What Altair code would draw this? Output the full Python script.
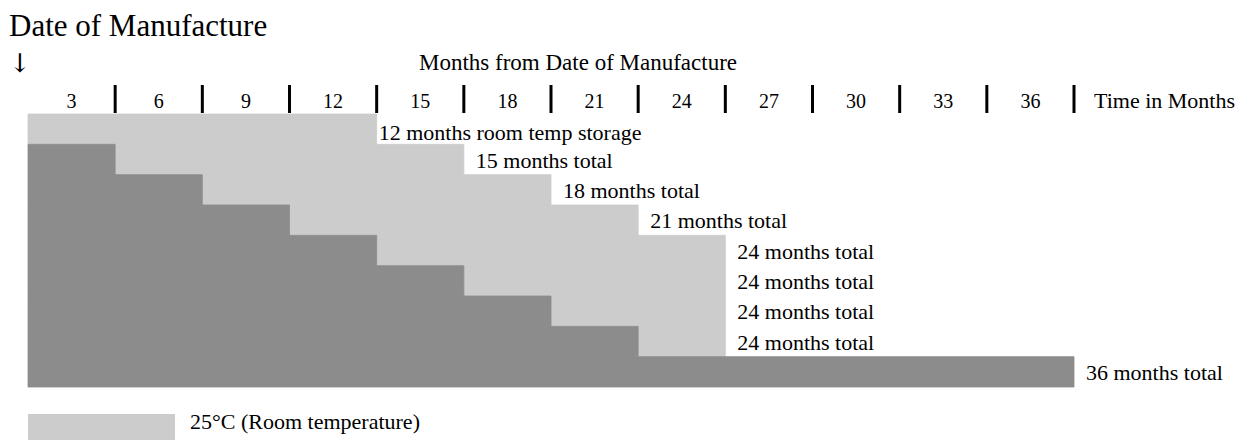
import altair as alt
import pandas as pd

# ---- data ----
row_labels = [
    "12 months room temp storage",
    "15 months total",
    "18 months total",
    "21 months total",
    "24 months total",
    "24 months total",
    "24 months total",
    "24 months total",
    "36 months total",
]
dark_end = [0, 3, 6, 9, 12, 15, 18, 21, 36]     # months at refrigerated storage (dark)
light_end = [12, 15, 18, 21, 24, 24, 24, 24, 36]  # total months (end of room temp)
tick_months = [3, 6, 9, 12, 15, 18, 21, 24, 27, 30, 33, 36]
tick_labels = ["3", "6", "9", "12", "15", "18", "21", "24", "27", "30", "33", "36"]
title_text = "Date of Manufacture"
arrow_text = "↓"
header_text = "Months from Date of Manufacture"
axis_text = "Time in Months"
legend_labels = ["25°C (Room temperature)"]
legend_colors = ["#cccccc"]

LIGHT = "#cccccc"
DARK = "#8c8c8c"
FONT = "Liberation Serif"

rows = pd.DataFrame({
    "row": list(range(len(row_labels))),
    "dark": dark_end,
    "light": light_end,
    "label": row_labels,
})
ticks = pd.DataFrame({"m": tick_months, "lab": tick_labels})
legend = pd.DataFrame({"lab": legend_labels, "col": legend_colors})

xs = alt.Scale(domain=[0, 36], range=[20, 1066], nice=False, zero=False)
ys = alt.Scale(domain=[0, 9], range=[106, 379], nice=False, zero=False)

base = alt.Chart(rows).transform_calculate(
    start="0", row2="datum.row + 1", mid="datum.row + 0.5"
)

light_bars = base.transform_filter("datum.light > datum.dark").mark_rect(
    color=LIGHT, stroke=LIGHT, strokeWidth=0.8
).encode(
    x=alt.X("dark:Q", scale=xs, axis=None),
    x2="light:Q",
    y=alt.Y("row:Q", scale=ys, axis=None),
    y2="row2:Q",
)
dark_bars = base.transform_filter("datum.dark > 0").mark_rect(
    color=DARK, stroke=DARK, strokeWidth=0.8
).encode(
    x=alt.X("start:Q", scale=xs, axis=None),
    x2="dark:Q",
    y=alt.Y("row:Q", scale=ys, axis=None),
    y2="row2:Q",
)
first_label = base.transform_filter("datum.row == 0").mark_text(
    font=FONT, fontSize=22, align="left", baseline="alphabetic", dx=2, dy=11, color="black"
).encode(
    x=alt.X("light:Q", scale=xs, axis=None),
    y=alt.Y("mid:Q", scale=ys, axis=None),
    text="label:N",
)
other_labels = base.transform_filter("datum.row > 0").mark_text(
    font=FONT, fontSize=22, align="left", baseline="alphabetic", dx=12, dy=8, color="black"
).encode(
    x=alt.X("light:Q", scale=xs, axis=None),
    y=alt.Y("mid:Q", scale=ys, axis=None),
    text="label:N",
)

tick_rules = alt.Chart(ticks).mark_rule(strokeWidth=3, color="black").encode(
    x=alt.X("m:Q", scale=xs, axis=None),
    y=alt.value(77),
    y2=alt.value(105),
)
tick_text = alt.Chart(ticks).transform_calculate(c="datum.m - 1.5").mark_text(
    font=FONT, fontSize=20, align="center", baseline="alphabetic", color="black"
).encode(
    x=alt.X("c:Q", scale=xs, axis=None),
    y=alt.value(100),
    text="lab:N",
)

title = alt.Chart(pd.DataFrame({"t": [title_text]})).mark_text(
    font=FONT, fontSize=31, align="left", baseline="alphabetic", color="black"
).encode(x=alt.value(1), y=alt.value(28), text="t:N")

arrow = alt.Chart(pd.DataFrame({"t": [arrow_text]})).mark_text(
    font="DejaVu Serif", fontSize=26, align="left", baseline="alphabetic", color="black"
).encode(x=alt.value(1), y=alt.value(64), text="t:N")

header = alt.Chart(pd.DataFrame({"t": [header_text]})).mark_text(
    font=FONT, fontSize=23, align="center", baseline="alphabetic", color="black"
).encode(x=alt.value(570), y=alt.value(62), text="t:N")

axis_title = alt.Chart(pd.DataFrame({"t": [axis_text], "m": [36]})).mark_text(
    font=FONT, fontSize=22, align="left", baseline="alphabetic", dx=20, color="black"
).encode(x=alt.X("m:Q", scale=xs, axis=None), y=alt.value(100), text="t:N")

legend_rect = alt.Chart(legend).mark_rect().encode(
    x=alt.value(20), x2=alt.value(167), y=alt.value(406), y2=alt.value(440),
    color=alt.Color("col:N", scale=None, legend=None),
)
legend_text = alt.Chart(legend).mark_text(
    font=FONT, fontSize=22, align="left", baseline="alphabetic", color="black"
).encode(x=alt.value(182), y=alt.value(421), text="lab:N")

chart = alt.layer(
    light_bars, dark_bars, first_label, other_labels, tick_rules, tick_text,
    title, arrow, header, axis_title, legend_rect, legend_text,
).properties(
    width=1241, height=432, autosize="none", padding=0,
).configure_view(stroke=None)

chart.save("out.html", embed_options={"renderer": "svg", "actions": False})
